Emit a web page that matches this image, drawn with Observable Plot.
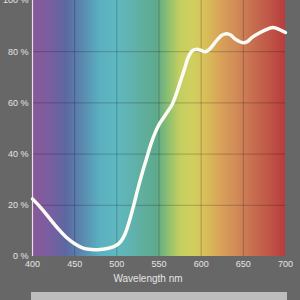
<!DOCTYPE html>
<html><head><meta charset="utf-8">
<script src="https://cdn.jsdelivr.net/npm/d3@7"></script>
<script src="https://cdn.jsdelivr.net/npm/@observablehq/plot@0.6"></script>
<style>
html,body{margin:0;padding:0;background:#676767;width:300px;height:300px;overflow:hidden}
#bar{margin-left:31px;width:256px;height:8px;background:#bdbdbd}
</style></head><body>
<div id="chart"></div>
<div id="bar"></div>
<script>
const wavelengths = [400,410,420,430,440,450,460,470,480,490,500,505,510,515,520,525,530,535,540,545,550,555,560,565,570,575,580,585,590,595,600,605,610,615,620,625,630,635,640,645,650,655,660,670,680,685,690,700];
const transmission = [22.5,19,15,11,7.5,5,3.3,2.7,2.7,3.2,4.5,6,9,14,20,26.5,32.5,38,43.5,48,51.5,54,56.5,59,63,68,73,78,80.5,81,80.5,80,81,83,85,86.5,87,86.5,85,84,83.5,84,85.5,87.5,89,89.5,89,87.5];
const xTicks = [400,450,500,550,600,650,700];
const yTicks = [0,20,40,60,80,100];
const stopWl = [400,420,440,460,480,500,525,548,562,575,590,605,625,645,660,680,700];
const stopColors = ["#8a5898","#7a5ea0","#5c68a2","#5a8ab0","#5ab0c0","#60b8c0","#60b0a6","#5eaa8c","#90c070","#c4ce60","#d0d060","#d8c058","#d8a058","#d08858","#c87050","#c05848","#b83c3c"];

const data = wavelengths.map((w,i)=>({w, p: transmission[i]}));
const stops = stopWl.map((w,i)=>({w, c: stopColors[i]}));

const chart = Plot.plot({
  width: 300, height: 292,
  marginLeft: 32, marginRight: 15, marginTop: 0, marginBottom: 36,
  style: {background: "transparent", color: "#e4e4e4", fontFamily: "Liberation Sans, Arial, sans-serif", fontSize: "9px"},
  x: {domain: [400,700], ticks: xTicks, tickSize: 0, tickPadding: 4, label: "Wavelength nm", labelAnchor: "center", labelArrow: "none", labelOffset: 25},
  y: {domain: [0,100], ticks: yTicks, tickSize: 0, tickPadding: 4, tickFormat: d => d + " %", label: null},
  marks: [
    (index, scales, values, dims) => {
      const x0 = scales.x(400), x1 = scales.x(700);
      const defs = d3.create("svg:defs");
      const g = defs.append("linearGradient").attr("id","spec").attr("gradientUnits","userSpaceOnUse")
        .attr("x1", x0).attr("x2", x1).attr("y1",0).attr("y2",0);
      stops.forEach(s => g.append("stop").attr("offset", (scales.x(s.w)-x0)/(x1-x0)).attr("stop-color", s.c));
      return defs.node();
    },
    Plot.rect([{x1:400,x2:700,y1:0,y2:100}], {x1:"x1", x2:"x2", y1:"y1", y2:"y2", fill: "url(#spec)"}),
    Plot.gridX(xTicks.slice(1,-1), {stroke: "#000", strokeOpacity: 0.22, strokeWidth: 1}),
    Plot.gridY(yTicks.slice(1,-1), {stroke: "#000", strokeOpacity: 0.22, strokeWidth: 1}),
    Plot.ruleX([400], {stroke: "#e8e0e8", strokeWidth: 1.2}),
    Plot.line(data, {x: "w", y: "p", curve: "catmull-rom", stroke: "#fbfbf4", strokeWidth: 3.5, strokeLinecap: "round"})
  ]
});
d3.select(chart).selectAll("g[aria-label='x-axis label'] text").attr("font-size", "10px").attr("dx", -11);
document.getElementById("chart").appendChild(chart);
</script>
</body></html>
